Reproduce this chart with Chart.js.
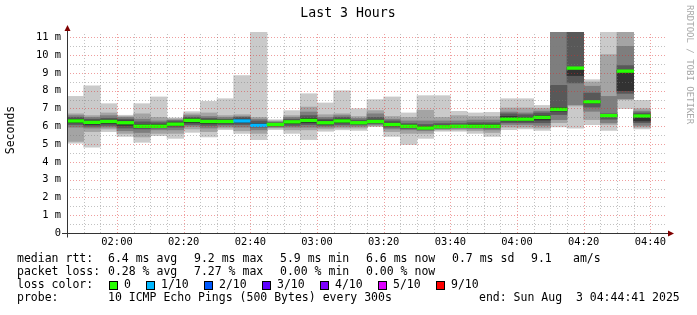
<!DOCTYPE html>
<html><head><meta charset="utf-8">
<script src="https://cdn.jsdelivr.net/npm/chart.js@4.4.1/dist/chart.umd.min.js"></script>
<style>html,body{margin:0;padding:0;background:#fff}canvas{display:block}</style>
</head><body>
<canvas id="c" width="697" height="315"></canvas>
<script>
// ---- data ----
const slots = ['01:45','01:50','01:55','02:00','02:05','02:10','02:15','02:20','02:25','02:30','02:35','02:40',
  '02:45','02:50','02:55','03:00','03:05','03:10','03:15','03:20','03:25','03:30','03:35','03:40',
  '03:45','03:50','03:55','04:00','04:05','04:10','04:15','04:20','04:25','04:30','04:35','04:40'];
// sorted ping values (ms), 10 pings per step
const p1  = [5.05,4.82,5.7,5.43,5.1,5.47,5.32,5.66,5.4,5.81,5.6,5.25,5.81,5.6,5.25,5.72,5.8,5.77,5.98,5.43,4.97,5.32,5.72,5.72,5.6,5.43,5.81,5.85,5.77,5.96,5.9,6.09,5.77,6.99,5.85,null];
const p2  = [5.15,5.7,5.85,5.6,5.4,5.6,5.6,5.85,5.7,5.9,5.75,5.6,5.9,5.8,5.8,5.85,5.9,5.9,6.02,5.7,5.6,5.6,5.8,5.8,5.75,5.65,5.95,5.95,5.9,6.2,7.15,6.37,6.1,7.5,5.95,null];
const p3  = [5.95,5.9,5.95,5.75,5.65,5.8,5.8,6.0,5.9,6.0,5.95,5.8,5.95,5.95,5.95,5.95,6.0,6.0,6.08,5.85,5.8,5.75,5.85,5.88,5.85,5.8,6.1,6.1,6.05,6.37,7.22,6.84,6.2,7.55,6.05,null];
const p4  = [6.1,6.0,6.05,5.9,5.85,5.9,5.95,6.1,6.05,6.1,6.1,5.95,6.0,6.05,6.1,6.05,6.1,6.08,6.15,5.95,5.88,5.82,5.9,5.93,5.92,5.9,6.2,6.2,6.2,6.66,8.44,7.08,6.4,7.85,6.2,null];
const p5  = [6.2,6.1,6.15,6.05,5.93,5.95,6.05,6.2,6.15,6.18,6.2,6.0,6.05,6.15,6.2,6.12,6.2,6.14,6.22,6.03,5.94,5.86,5.93,5.97,5.96,5.95,6.3,6.3,6.35,6.85,8.85,7.3,6.55,8.0,6.3,null];
const median = [6.3,6.22,6.27,6.2,6.0,6.0,6.12,6.33,6.27,6.27,6.3,6.05,6.1,6.25,6.33,6.2,6.3,6.2,6.27,6.1,6.0,5.9,5.97,6.0,6.0,6.0,6.4,6.4,6.5,6.95,9.27,7.38,6.6,9.1,6.58,null];
const p6  = [6.4,6.3,6.35,6.3,6.1,6.1,6.2,6.42,6.35,6.35,6.4,6.15,6.15,6.3,6.45,6.3,6.4,6.25,6.35,6.18,6.08,5.98,6.05,6.05,6.1,6.1,6.55,6.5,6.6,7.05,9.3,7.46,6.65,9.15,6.65,null];
const p7  = [6.5,6.4,6.45,6.4,6.25,6.2,6.3,6.5,6.45,6.4,6.5,6.3,6.2,6.4,6.6,6.4,6.5,6.35,6.5,6.3,6.15,6.1,6.15,6.15,6.2,6.2,6.7,6.65,6.75,8.3,12,7.87,6.7,9.41,6.75,null];
const p8  = [6.6,6.5,6.6,6.5,6.4,6.3,6.35,6.6,6.55,6.5,6.55,6.4,6.25,6.5,6.8,6.5,6.6,6.45,6.7,6.4,6.3,6.3,6.3,6.3,6.35,6.35,6.8,6.75,6.85,12,12.5,8.25,7.68,10.5,6.85,null];
const p9  = [6.7,6.6,6.75,6.55,6.7,6.5,6.42,6.7,6.75,6.6,6.65,6.5,6.3,6.6,7.08,6.65,6.7,6.55,6.88,6.55,6.5,6.9,6.5,6.6,6.55,6.55,7.03,7.03,7.0,12.5,13,8.49,10.03,12,6.99,null];
const p10 = [7.68,8.28,7.27,6.62,7.27,7.65,6.47,6.82,7.4,7.55,8.85,11.5,6.37,6.88,7.83,7.31,8.0,6.99,7.5,7.65,6.75,7.72,7.72,6.84,6.75,6.78,7.55,7.55,7.17,13,13.5,8.62,12,12.5,7.46,null];
const lossIdx = [0,0,0,0,0,0,0,0,0,0,1,1,0,0,0,0,0,0,0,0,0,0,0,0,0,0,0,0,0,0,0,0,0,0,0,0];
const lossLabels = ['0','1/10','2/10','3/10','4/10','5/10','9/10'];
const lossColors = ['#26ff00','#00b8ff','#0059ff','#5e00ff','#7e00ff','#dd00ff','#ff0000'];
const yTickValues = [0,1,2,3,4,5,6,7,8,9,10,11];
const yTickLabels = ['0','1 m','2 m','3 m','4 m','5 m','6 m','7 m','8 m','9 m','10 m','11 m'];
const xTickMinutes = [15,35,55,75,95,115,135,155,175]; // minutes after 01:45
const xTickLabels = ['02:00','02:20','02:40','03:00','03:20','03:40','04:00','04:20','04:40'];
const legendRows = [
  [['median rtt:',17],['6.4 ms avg',108],['9.2 ms max',194],['5.9 ms min',280],['6.6 ms now',366],['0.7 ms sd',452],['9.1',531],['am/s',573]],
  [['packet loss:',17],['0.28 % avg',108],['7.27 % max',194],['0.00 % min',280],['0.00 % now',366]],
  [['loss color:',17]],
  [['probe:',17],['10 ICMP Echo Pings (500 Bytes) every 300s',108],['end: Sun Aug  3 04:44:41 2025',479]]
];
const lossSquareX = [109,146,204,262,320,378,436];

// ---- build ----
const MONO = '"DejaVu Sans Mono"';
const pair = (lo, hi) => lo.map((v,i) => (v==null||hi[i]==null) ? null : [v, hi[i]]);
const bandDefs = [[p1,p10,'#cacaca'],[p2,p9,'#a4a4a4'],[p3,p8,'#7e7e7e'],[p4,p7,'#585858'],[p5,p6,'#323232']];
const datasets = bandDefs.map((b,i) => ({
  data: pair(b[0], b[1]), backgroundColor: b[2], borderWidth: 0, order: 10 - i,
  grouped: false, barPercentage: 1, categoryPercentage: 1, xAxisID: 'x', yAxisID: 'y'
}));
datasets.push({
  data: median.map(m => m==null ? null : [m - 0.075, m + 0.075]),
  backgroundColor: lossIdx.map(i => lossColors[i]), borderWidth: 0, order: 0,
  grouped: false, barPercentage: 1, categoryPercentage: 1, xAxisID: 'x', yAxisID: 'y'
});

const deco = {
  id: 'deco',
  afterDatasetsDraw(chart) {
    const {ctx, chartArea: a, scales} = chart;
    const xs = scales.xt, ys = scales.y;
    ctx.save();
    ctx.lineWidth = 1;
    ctx.setLineDash([1, 2]);
    const MIN = 'rgba(120,120,120,0.45)', MAJ = 'rgba(220,40,40,0.45)';
    for (let m = 5; m < 180; m += 5) {
      const x = Math.round(xs.getPixelForValue(m)) + 0.5;
      ctx.strokeStyle = xTickMinutes.includes(m) ? MAJ : MIN;
      ctx.beginPath(); ctx.moveTo(x, a.bottom); ctx.lineTo(x, a.top); ctx.stroke();
    }
    for (let v = 0.5; v <= 11.01; v += 0.5) {
      const y = Math.round(ys.getPixelForValue(v)) + 0.5;
      ctx.strokeStyle = (Math.abs(v - Math.round(v)) < 0.01) ? MAJ : MIN;
      ctx.beginPath(); ctx.moveTo(a.left, y); ctx.lineTo(a.right, y); ctx.stroke();
    }
    ctx.setLineDash([]);
    // axes
    const y0 = Math.round(ys.getPixelForValue(0)) + 0.5;
    const x0 = Math.round(a.left) + 0.5;
    ctx.strokeStyle = '#333';
    ctx.beginPath(); ctx.moveTo(a.left - 5, y0); ctx.lineTo(a.right + 2, y0); ctx.stroke();
    ctx.beginPath(); ctx.moveTo(x0, y0 + 4); ctx.lineTo(x0, a.top - 2); ctx.stroke();
    ctx.fillStyle = '#800000';
    ctx.beginPath(); ctx.moveTo(a.right + 1, y0 - 3); ctx.lineTo(a.right + 7, y0); ctx.lineTo(a.right + 1, y0 + 3); ctx.closePath(); ctx.fill();
    ctx.beginPath(); ctx.moveTo(x0 - 3, a.top - 1); ctx.lineTo(x0, a.top - 7); ctx.lineTo(x0 + 3, a.top - 1); ctx.closePath(); ctx.fill();
    ctx.restore();
  },
  afterDraw(chart) {
    const ctx = chart.ctx;
    ctx.save();
    ctx.fillStyle = '#000';
    ctx.textBaseline = 'middle';
    ctx.textAlign = 'center';
    ctx.font = '13.2px ' + MONO;
    ctx.fillText('Last 3 Hours', 348, 14);
    ctx.save();
    ctx.translate(11, 130); ctx.rotate(-Math.PI / 2);
    ctx.font = '11.5px ' + MONO;
    ctx.fillText('Seconds', 0, 0);
    ctx.restore();
    ctx.save();
    ctx.translate(689, 5); ctx.rotate(Math.PI / 2);
    ctx.textAlign = 'left';
    ctx.font = '9px ' + MONO;
    ctx.fillStyle = '#a8a8a8';
    ctx.fillText('RRDTOOL / TOBI OETIKER', 0, 0);
    ctx.restore();
    ctx.textAlign = 'left';
    ctx.font = '11.5px ' + MONO;
    const rowsY = [259.5, 272.5, 285.5, 298.5];
    legendRows.forEach((row, r) => row.forEach(([t, x]) => ctx.fillText(t, x, rowsY[r])));
    lossLabels.forEach((lab, i) => {
      const sx = lossSquareX[i];
      ctx.fillStyle = lossColors[i];
      ctx.fillRect(sx, rowsY[2] - 4.5, 9, 9);
      ctx.strokeStyle = '#000'; ctx.lineWidth = 1;
      ctx.strokeRect(sx + 0.5, rowsY[2] - 4, 8, 8);
      ctx.fillStyle = '#000';
      ctx.fillText(lab, sx + 15, rowsY[2]);
    });
    ctx.restore();
  }
};

Chart.defaults.font.family = MONO;
Chart.defaults.color = '#000';
new Chart(document.getElementById('c'), {
  type: 'bar',
  data: { labels: slots, datasets },
  options: {
    responsive: false, animation: false,
    layout: { padding: { left: 0, right: 30, top: 32, bottom: 0 } },
    plugins: { legend: { display: false }, tooltip: { enabled: false }, title: { display: false } },
    scales: {
      x: { type: 'category', display: false, offset: true, grid: { display: false } },
      xt: {
        type: 'linear', position: 'bottom', min: 0, max: 180, offset: false,
        afterBuildTicks: s => { s.ticks = xTickMinutes.map(v => ({ value: v })); },
        afterFit: s => { s.height = 82; },
        grid: { display: false, drawTicks: false, offset: false }, border: { display: false },
        ticks: { autoSkip: false, maxRotation: 0, padding: 3, font: { size: 10.4, family: MONO },
          callback: v => xTickLabels[xTickMinutes.indexOf(v)] }
      },
      y: {
        type: 'linear', min: 0, max: 11.3,
        afterBuildTicks: s => { s.ticks = yTickValues.map(v => ({ value: v })); },
        afterFit: s => { s.width = 67; },
        grid: { display: false, drawTicks: false }, border: { display: false },
        ticks: { padding: 6, font: { size: 10.4, family: MONO },
          callback: v => yTickLabels[yTickValues.indexOf(v)] }
      }
    }
  },
  plugins: [deco]
});
</script>
</body></html>
